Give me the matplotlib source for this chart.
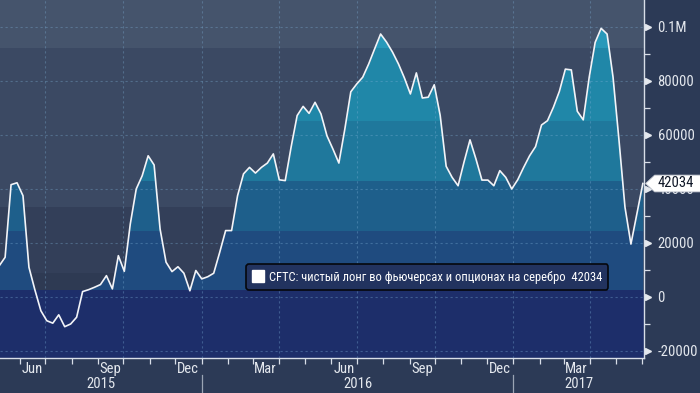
import matplotlib

matplotlib.use("Agg")
import matplotlib.pyplot as plt
import numpy as np
import pandas as pd
from matplotlib import font_manager
from matplotlib.lines import Line2D
from matplotlib.patches import Polygon, Rectangle

installed = {f.name for f in font_manager.fontManager.ttflist}
narrow = [n for n in ["Liberation Sans Narrow", "DejaVu Sans Condensed",
                      "Roboto Condensed", "Open Sans Condensed", "Noto Sans Condensed"]
          if n in installed]
plt.rcParams["font.family"] = narrow + ["DejaVu Sans"]
plt.rcParams["font.stretch"] = "condensed"
fs = 10.5 if narrow else 8.5

# weekly CFTC net long, silver (contracts)
net_long = [
    11500, 14700, 41600, 42300, 37500, 11000, 2600, -5100, -8800, -9700,
    -6600, -11000, -10000, -7500, 2000, 2700, 3600, 4600, 7900, 3000,
    15300, 9500, 27000, 40000, 44900, 52300, 48900, 25200, 12900, 9400,
    11200, 8800, 2300, 9800, 6700, 7500, 8800, 16500, 24600, 24600,
    37500, 45600, 48000, 45900, 48000, 49600, 53000, 43400, 43100, 55700,
    67200, 70600, 68000, 72100, 67800, 59700, 54800, 49600, 62200, 76000,
    78900, 81400, 86300, 91900, 97400, 94400, 90700, 86300, 81100, 75200,
    83000, 73700, 74000, 78600, 67200, 48400, 44300, 41200, 50000, 58200,
    51100, 43300, 43300, 41200, 46800, 44300, 40000, 43400, 48000, 52300,
    55700, 63700, 65300, 70300, 76200, 84400, 84100, 68800, 65600, 81400,
    94300, 99500, 97400, 81400, 58000, 33300, 19600, 30800, 42034,
]
dates = pd.date_range(end="2017-06-02", periods=len(net_long), freq="7D")
last_value = net_long[-1]
legend_label = "CFTC: чистый лонг во фьючерсах и опционах на серебро  42034"

y_ticks = [-20000, 0, 20000, 40000, 60000, 80000, 100000]
y_tick_labels = ["-20000", "0", "20000", "40000", "60000", "80000", "0.1M"]
month_labels = ["Jun", "Sep", "Dec", "Mar", "Jun", "Sep", "Dec", "Mar"]
month_label_dates = ["2015-06-16", "2015-09-16", "2015-12-16", "2016-03-16",
                     "2016-06-16", "2016-09-16", "2016-12-16", "2017-03-16"]
years = ["2015", "2016", "2017"]

# colour bands: (low, high, colour)
y_lo, y_hi = -22600, 110000
bg_bands = [
    (92200, y_hi, "#45546c"),
    (33300, 92200, "#3b4963"),
    (8900, 33300, "#333f59"),
    (2600, 8900, "#2e3a53"),
    (y_lo, 2600, "#1d2e6a"),
]
fill_bands = [
    (92200, y_hi, "#2899ba"),
    (65200, 92200, "#2087a8"),
    (43000, 65200, "#1f789c"),
    (24400, 43000, "#1e5f8b"),
    (2600, 24400, "#1f4b7f"),
    (y_lo, 2600, "#1d2e6a"),
]

x_left = pd.Timestamp("2015-05-09")
x_right = pd.Timestamp("2017-06-03")

fig = plt.figure(figsize=(7.0, 3.93), dpi=100, facecolor="#2c3a56")
ax = fig.add_axes([0.0, 35 / 393, 643.7 / 700, 358 / 393])
ax.set_facecolor("#3b4963")

for lo, hi, c in bg_bands:
    ax.axhspan(lo, hi, color=c, lw=0, zorder=0)

for lo, hi, c in fill_bands:
    poly = ax.fill_between(dates, y_lo, net_long, color=c, lw=0, zorder=1)
    clip = Rectangle((0, lo), 1, hi - lo, transform=ax.get_yaxis_transform())
    poly.set_clip_path(clip)

ax.plot(dates, net_long, color="#f2f4f8", lw=1.2, zorder=4)

ax.set_xlim(x_left, x_right)
ax.set_ylim(y_lo, y_hi)

# grid
grid_kw = dict(color="#7fb2d8", alpha=0.35, lw=0.8, ls=(0, (2, 2.5)), zorder=2)
for v in y_ticks:
    ax.axhline(v, **grid_kw)
for d in pd.date_range("2015-07-01", "2017-04-01", freq="QS"):
    ax.axvline(d, **grid_kw)

# axes styling
for side in ["top", "left"]:
    ax.spines[side].set_visible(False)
for side in ["right", "bottom"]:
    ax.spines[side].set_color("#d8dee8")
    ax.spines[side].set_linewidth(1.0)

ax.yaxis.tick_right()
ax.set_yticks(y_ticks)
ax.set_yticklabels(y_tick_labels)
ax.set_yticks(np.arange(-10000, 110000, 20000), minor=True)
ax.tick_params(axis="y", which="major", length=0, pad=10, labelsize=fs,
               labelcolor="#e4e8ee")
ax.tick_params(axis="y", which="minor", length=4, width=0.9, color="#d8dee8")
ax.plot([1.007] * len(y_ticks), y_ticks, marker=">", ms=5, ls="none",
        color="#e4e8ee", transform=ax.get_yaxis_transform(), clip_on=False)

month_starts = pd.date_range("2015-06-01", "2017-06-01", freq="MS")
ax.set_xticks(month_starts)
ax.set_xticklabels([])
ax.tick_params(axis="x", which="major", length=4, width=0.9, color="#d8dee8")

xt = ax.get_xaxis_transform()
for lab, d in zip(month_labels, month_label_dates):
    ax.text(pd.Timestamp(d), -0.03, lab, transform=xt, ha="center", va="center",
            fontsize=fs, color="#e4e8ee", clip_on=False)

year_edges = [x_left, pd.Timestamp("2016-01-01"), pd.Timestamp("2017-01-01"), x_right]
for i, yr in enumerate(years):
    mid = year_edges[i] + (year_edges[i + 1] - year_edges[i]) / 2
    ax.text(mid, -0.072, yr, transform=xt, ha="center", va="center",
            fontsize=fs, color="#e4e8ee", clip_on=False)
for d in year_edges[1:3]:
    ax.plot([d, d], [-0.047, -0.1], color="#9aa4b4", lw=0.9, transform=xt,
            clip_on=False)

# legend
handle = Line2D([], [], marker="s", ls="none", color="white", ms=8)
leg = ax.legend([handle], [legend_label], loc="center",
                bbox_to_anchor=(0.664, 0.226), fontsize=fs - 1.5, frameon=True,
                fancybox=True, facecolor="#22335f", edgecolor="#05070c",
                framealpha=1.0, handlelength=0.8, handletextpad=0.5,
                borderpad=0.5, labelcolor="white")
leg.get_frame().set_linewidth(1.2)
leg.set_zorder(6)

# last value tag
ytr = ax.get_yaxis_transform()
half = 3100
tip = 1.003
tag = Polygon([(tip, last_value), (tip + 0.014, last_value + half),
               (1.1, last_value + half), (1.1, last_value - half),
               (tip + 0.014, last_value - half)],
              closed=True, transform=ytr, facecolor="white",
              edgecolor="#c8ccd4", lw=0.6, clip_on=False, zorder=10)
fig.add_artist(tag)
fig.text(1.022, last_value, f"{last_value}", transform=ytr, ha="left",
         va="center", fontsize=fs, color="#101828", zorder=11)

fig.savefig("out.png", dpi=100, facecolor=fig.get_facecolor())
